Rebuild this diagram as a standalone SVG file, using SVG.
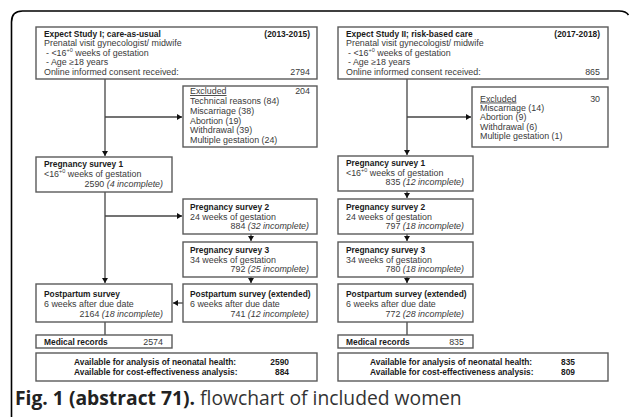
<svg xmlns="http://www.w3.org/2000/svg" width="630" height="417" viewBox="0 0 630 417">
<style>
.box{fill:#fff;stroke:#5a5a5a;stroke-width:1.4}
.t{font-family:"Liberation Sans",Arial,sans-serif;font-size:8.9px;fill:#3a3a3a}
.b{font-family:"Liberation Sans",Arial,sans-serif;font-size:8.4px;font-weight:bold;fill:#1a1a1a}
.i{font-style:italic}
.e{text-anchor:end}
.sup{font-size:5.5px}
.c{fill:none;stroke:#444;stroke-width:1.3}
.cap{font-family:"Open Sans","Noto Sans",sans-serif;font-size:19.3px;fill:#333}
</style>
<defs>
<marker id="ah" markerUnits="userSpaceOnUse" markerWidth="6" markerHeight="6" refX="5" refY="3" orient="auto">
<path d="M0,0 L5,3 L0,6 z" fill="#111"/>
</marker>
</defs>
<rect width="630" height="417" fill="#fff"/>
<path d="M11.5,417 V22 Q11.5,11 22.5,11 H619 Q626,11 628.5,15" fill="none" stroke="#000" stroke-width="1.6"/>

<g id="connectors">
<path class="c" d="M105,79 V156" marker-end="url(#ah)"/>
<path class="c" d="M105,117 H182" marker-end="url(#ah)"/>
<path class="c" d="M105,192 V283" marker-end="url(#ah)"/>
<path class="c" d="M105,216 H182" marker-end="url(#ah)"/>
<path class="c" d="M251,234 V241" marker-end="url(#ah)"/>
<path class="c" d="M251,277 V283" marker-end="url(#ah)"/>
<path class="c" d="M183,303 H173" marker-end="url(#ah)"/>
<path class="c" d="M105,322 V335"/>
<path class="c" d="M407,79 V155" marker-end="url(#ah)"/>
<path class="c" d="M407,117 H471" marker-end="url(#ah)"/>
<path class="c" d="M407,191 V198" marker-end="url(#ah)"/>
<path class="c" d="M407,234 V241" marker-end="url(#ah)"/>
<path class="c" d="M407,277 V283" marker-end="url(#ah)"/>
<path class="c" d="M407,322 V335"/>
</g>

<g id="study1">
<rect class="box" x="36" y="27" width="281" height="52"/>
<text class="b" x="44" y="36.5">Expect Study I; care-as-usual</text>
<text class="b e" x="310" y="36.5">(2013-2015)</text>
<text class="t" x="44" y="46">Prenatal visit gynecologist/ midwife</text>
<text class="t" x="46" y="55.5">- &lt;16<tspan class="sup" dy="-3.5">+0</tspan><tspan dy="3.5"> weeks of gestation</tspan></text>
<text class="t" x="46" y="65">- Age ≥18 years</text>
<text class="t" x="44" y="74.5">Online informed consent received:</text>
<text class="t e" x="310" y="74.5">2794</text>
</g>

<g id="excluded1">
<rect class="box" x="183" y="86" width="134" height="61"/>
<text class="t" x="190" y="94" text-decoration="underline">Excluded</text>
<text class="t e" x="310" y="94">204</text>
<text class="t" x="190" y="104">Technical reasons (84)</text>
<text class="t" x="190" y="114">Miscarriage (38)</text>
<text class="t" x="190" y="123.5">Abortion (19)</text>
<text class="t" x="190" y="133">Withdrawal (39)</text>
<text class="t" x="190" y="143">Multiple gestation (24)</text>
</g>

<g id="ps1-1">
<rect class="box" x="36" y="157" width="136" height="35"/>
<text class="b" x="44" y="166.5">Pregnancy survey 1</text>
<text class="t" x="44" y="176.5">&lt;16<tspan class="sup" dy="-3.5">+0</tspan><tspan dy="3.5"> weeks of gestation</tspan></text>
<text class="t e" x="163" y="186.5">2590 <tspan class="i">(4 incomplete)</tspan></text>
</g>

<g id="ps2-1">
<rect class="box" x="183" y="199" width="134" height="35"/>
<text class="b" x="190" y="210">Pregnancy survey 2</text>
<text class="t" x="190" y="219.5">24 weeks of gestation</text>
<text class="t e" x="309" y="229">884 <tspan class="i">(32 incomplete)</tspan></text>
</g>

<g id="ps3-1">
<rect class="box" x="183" y="242" width="134" height="35"/>
<text class="b" x="190" y="253.3">Pregnancy survey 3</text>
<text class="t" x="190" y="262.8">34 weeks of gestation</text>
<text class="t e" x="309" y="272.3">792 <tspan class="i">(25 incomplete)</tspan></text>
</g>

<g id="ppsext-1">
<rect class="box" x="183" y="284" width="134" height="38"/>
<text class="b" x="190" y="297.3">Postpartum survey (extended)</text>
<text class="t" x="190" y="306.8">6 weeks after due date</text>
<text class="t e" x="309" y="316.6">741 <tspan class="i">(12 incomplete)</tspan></text>
</g>

<g id="pps-1">
<rect class="box" x="36" y="284" width="136" height="38"/>
<text class="b" x="44" y="297.3">Postpartum survey</text>
<text class="t" x="44" y="306.8">6 weeks after due date</text>
<text class="t e" x="163" y="316.6">2164 <tspan class="i">(18 incomplete)</tspan></text>
</g>

<g id="med-1">
<rect class="box" x="36" y="335" width="136" height="13"/>
<text class="b" x="44" y="344.5">Medical records</text>
<text class="t e" x="163" y="344.5">2574</text>
</g>

<g id="avail-1">
<rect class="box" x="36" y="353" width="281" height="28"/>
<text class="b" x="74" y="365">Available for analysis of neonatal health:</text>
<text class="b e" x="289" y="365">2590</text>
<text class="b" x="74" y="374.5">Available for cost-effectiveness analysis:</text>
<text class="b e" x="289" y="374.5">884</text>
</g>

<g id="study2">
<rect class="box" x="338" y="27" width="270" height="52"/>
<text class="b" x="346" y="36.5">Expect Study II; risk-based care</text>
<text class="b e" x="600" y="36.5">(2017-2018)</text>
<text class="t" x="346" y="46">Prenatal visit gynecologist/ midwife</text>
<text class="t" x="348" y="55.5">- &lt;16<tspan class="sup" dy="-3.5">+0</tspan><tspan dy="3.5"> weeks of gestation</tspan></text>
<text class="t" x="348" y="65">- Age ≥18 years</text>
<text class="t" x="346" y="74.5">Online informed consent received:</text>
<text class="t e" x="600" y="74.5">865</text>
</g>

<g id="excluded2">
<rect class="box" x="472" y="87" width="136" height="60"/>
<text class="t" x="480" y="101.5" text-decoration="underline">Excluded</text>
<text class="t e" x="600" y="101.5">30</text>
<text class="t" x="480" y="110.5">Miscarriage (14)</text>
<text class="t" x="480" y="120">Abortion (9)</text>
<text class="t" x="480" y="129.5">Withdrawal (6)</text>
<text class="t" x="480" y="139">Multiple gestation (1)</text>
</g>

<g id="ps1-2">
<rect class="box" x="338" y="156" width="135" height="35"/>
<text class="b" x="346" y="165.5">Pregnancy survey 1</text>
<text class="t" x="346" y="175.5">&lt;16<tspan class="sup" dy="-3.5">+0</tspan><tspan dy="3.5"> weeks of gestation</tspan></text>
<text class="t e" x="464" y="185">835 <tspan class="i">(12 incomplete)</tspan></text>
</g>

<g id="ps2-2">
<rect class="box" x="338" y="199" width="135" height="35"/>
<text class="b" x="346" y="210">Pregnancy survey 2</text>
<text class="t" x="346" y="219.5">24 weeks of gestation</text>
<text class="t e" x="464" y="229">797 <tspan class="i">(18 incomplete)</tspan></text>
</g>

<g id="ps3-2">
<rect class="box" x="338" y="242" width="135" height="35"/>
<text class="b" x="346" y="253.3">Pregnancy survey 3</text>
<text class="t" x="346" y="262.8">34 weeks of gestation</text>
<text class="t e" x="464" y="272.3">780 <tspan class="i">(18 incomplete)</tspan></text>
</g>

<g id="ppsext-2">
<rect class="box" x="338" y="284" width="135" height="38"/>
<text class="b" x="346" y="297.3">Postpartum survey (extended)</text>
<text class="t" x="346" y="306.8">6 weeks after due date</text>
<text class="t e" x="464" y="316.6">772 <tspan class="i">(28 incomplete)</tspan></text>
</g>

<g id="med-2">
<rect class="box" x="338" y="335" width="135" height="13"/>
<text class="b" x="346" y="344.5">Medical records</text>
<text class="t e" x="464" y="344.5">835</text>
</g>

<g id="avail-2">
<rect class="box" x="338" y="353" width="270" height="28"/>
<text class="b" x="370" y="365">Available for analysis of neonatal health:</text>
<text class="b" x="561" y="365">835</text>
<text class="b" x="370" y="374.5">Available for cost-effectiveness analysis:</text>
<text class="b" x="561" y="374.5">809</text>
</g>

<text class="cap" x="15" y="405"><tspan font-weight="bold" fill="#222">Fig. 1 (abstract 71).</tspan> flowchart of included women</text>
</svg>
